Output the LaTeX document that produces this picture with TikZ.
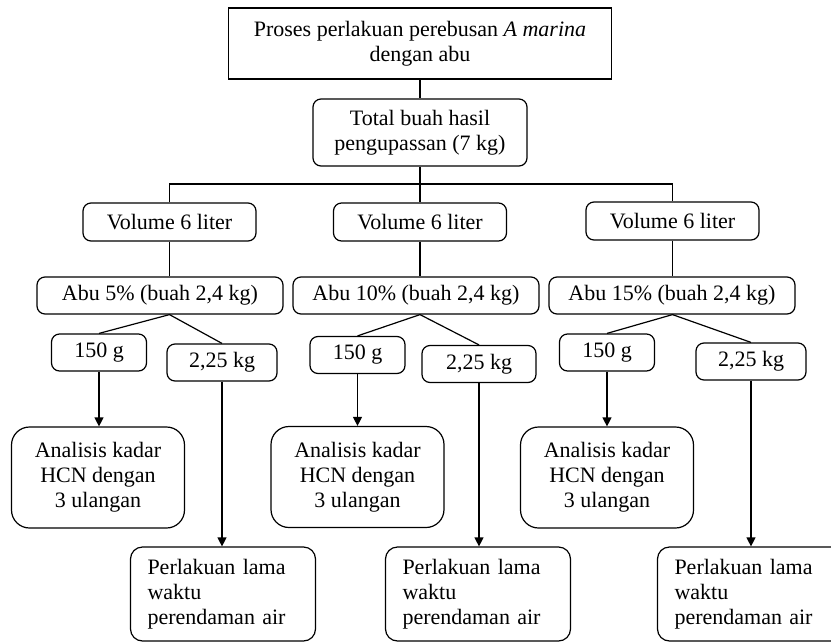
\documentclass[tikz,border=0pt]{standalone}
\usepackage{fontspec}
\setmainfont{Liberation Serif}
\usetikzlibrary{arrows.meta}

\begin{document}
\begin{tikzpicture}[x=1pt,y=-1pt,>={Triangle[width=9pt,length=9pt]},
  line width=1.2pt,
  box/.style={draw, align=center, inner sep=0pt, font=\fontsize{22}{25}\selectfont},
  rbox/.style={box, rounded corners=8pt, minimum height=37pt},
  hbox/.style={box, rounded corners=18pt, minimum width=173pt, minimum height=101pt},
  pbox/.style={box, rounded corners=12pt, align=left, text width=151pt,
    minimum width=185pt, minimum height=94pt}]
\useasboundingbox (0,0) rectangle (831,641);
\clip (0,0) rectangle (831,641);

\node[box, minimum width=383pt, minimum height=71pt] (top) at (420,43.5)
  {Proses perlakuan perebusan \textit{A marina}\\dengan abu};
\node[rbox, minimum width=214pt, minimum height=67pt] (total) at (420,132.5)
  {Total buah hasil\\pengupassan (7 kg)};
\coordinate (bus) at (420,184);

% volume
\node[rbox, minimum width=173pt, minimum height=38pt] (vol1) at (169.5,222) {Volume 6 liter};
\node[rbox, minimum width=173pt, minimum height=38pt] (vol2) at (420,222) {Volume 6 liter};
\node[rbox, minimum width=173pt, minimum height=38pt] (vol3) at (672.5,221) {Volume 6 liter};

% abu
\node[rbox, minimum width=246pt] (abu1) at (160,295.5) {Abu 5\% (buah 2,4 kg)};
\node[rbox, minimum width=246pt] (abu2) at (416,295.5) {Abu 10\% (buah 2,4 kg)};
\node[rbox, minimum width=246pt] (abu3) at (672,295.5) {Abu 15\% (buah 2,4 kg)};

% 150 g
\node[rbox, minimum width=95pt] (g1) at (99,352.5) {150 g};
\node[rbox, minimum width=95pt] (g2) at (357.5,355) {150 g};
\node[rbox, minimum width=95pt] (g3) at (607,352.5) {150 g};

% 2,25 kg
\node[rbox, minimum width=110pt] (kg1) at (222,362.5) {2,25 kg};
\node[rbox, minimum width=114pt] (kg2) at (479,364) {2,25 kg};
\node[rbox, minimum width=110pt] (kg3) at (751,361.5) {2,25 kg};

% analisis
\node[hbox] (hcn1) at (98,477.5) {Analisis kadar\\HCN dengan\\3 ulangan};
\node[hbox] (hcn2) at (357.5,477) {Analisis kadar\\HCN dengan\\3 ulangan};
\node[hbox] (hcn3) at (607,477.5) {Analisis kadar\\HCN dengan\\3 ulangan};

% perendaman
\node[pbox] (rend1) at (223,594) {Perlakuan lama\\waktu\\perendaman air};
\node[pbox] (rend2) at (478,594) {Perlakuan lama\\waktu\\perendaman air};
\node[pbox] (rend3) at (750,594) {Perlakuan lama\\waktu\\perendaman air};

\draw (top) -- (total);
\draw (total) -- (bus);
\draw (vol1.north) |- (vol3.north |- bus) -- (vol3.north);
\draw (bus) -- (vol2);

\draw (vol1.south) -- (vol1.south |- abu1.north);
\draw (vol2.south) -- (vol2.south |- abu2.north);
\draw (vol3.south) -- (vol3.south |- abu3.north);

\coordinate (j1) at (vol1.south |- abu1.south);
\coordinate (j2) at (vol2.south |- abu2.south);
\coordinate (j3) at (vol3.south |- abu3.south);
\draw (g1.north) -- (j1) -- (kg1.north);
\draw (g2.north) -- (j2) -- (kg2.north);
\draw (g3.north) -- (j3) -- (kg3.north);

\draw[->] (g1.south) -- (g1.south |- hcn1.north);
\draw[->] (g2.south) -- (g2.south |- hcn2.north);
\draw[->] (g3.south) -- (g3.south |- hcn3.north);

\draw[->] (kg1.south) -- (kg1.south |- rend1.north);
\draw[->] (kg2.south) -- (kg2.south |- rend2.north);
\draw[->] (kg3.south) -- (kg3.south |- rend3.north);
\end{tikzpicture}
\end{document}
